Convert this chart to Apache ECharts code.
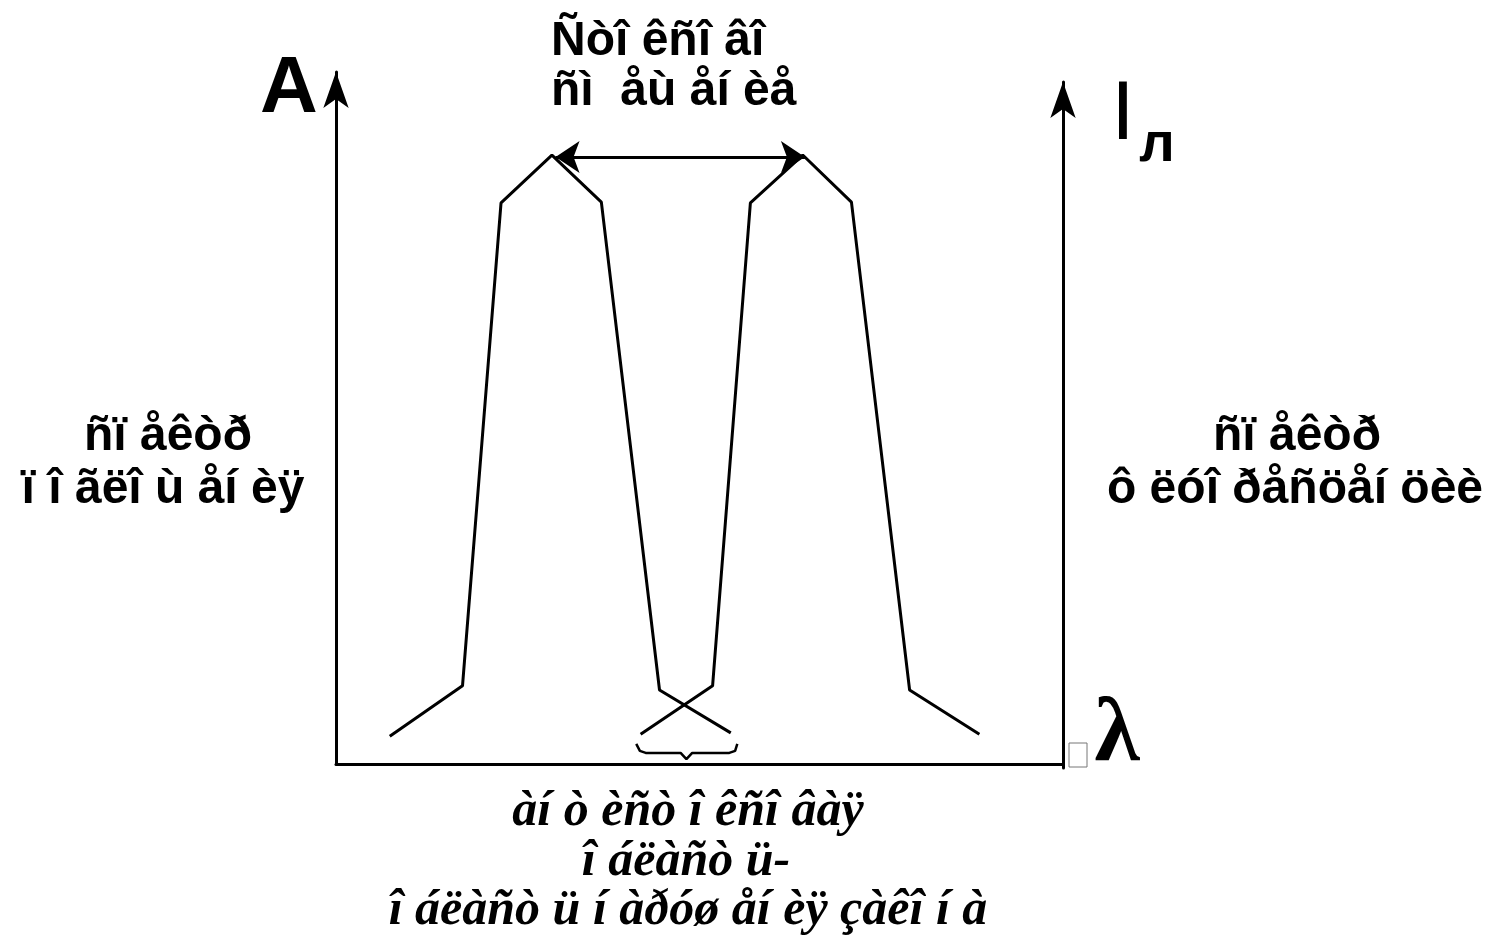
<!DOCTYPE html>
<html>
<head>
<meta charset="utf-8">
<script src="https://cdn.jsdelivr.net/npm/echarts@6/dist/echarts.min.js"></script>
<style>
  html, body { margin: 0; padding: 0; background: #fff; }
  #chart { width: 1499px; height: 937px; }
</style>
</head>
<body>
<div id="chart"></div>
<script>
// absorption band (left) and fluorescence band (right), relative units
const absWavelength = [7.4, 17.4, 22.7, 29.7, 36.5, 44.5, 54.3]
const absorption = [4.0, 11.3, 81.1, 88.0, 81.2, 10.7, 4.5]
const flWavelength = [41.9, 51.8, 57.0, 64.2, 70.9, 78.9, 88.5]
const fluorescence = [4.3, 11.3, 81.1, 88.0, 81.2, 10.7, 4.3]

// Stokes shift arrow between the two maxima
const shiftFrom = [30.2, 87.7]
const shiftTo = [64.5, 87.7]

// brace under the overlap region
const braceX = [41.3, 41.8, 42.6, 47.4, 48.2, 49.0, 54.1, 54.9, 55.2]
const braceY = [2.9, 1.9, 1.6, 1.6, 0.7, 1.6, 1.6, 1.9, 2.9]

const zip = (xs, ys) => xs.map((x, i) => [x, ys[i]])

const SANS = '"Liberation Sans", Arial, sans-serif'
const SERIF = '"Liberation Serif", "Times New Roman", serif'
const INK = '#000'

function label(text, x, y, opts = {}) {
  return {
    type: 'text',
    x,
    y,
    style: {
      text,
      fill: INK,
      font: opts.font || `bold 48px ${SANS}`,
      textAlign: opts.align || 'center',
      textVerticalAlign: 'middle',
    },
  }
}

const chart = echarts.init(document.getElementById('chart'))

chart.setOption({
  animation: false,
  grid: [
    { left: 336, top: 72, width: 727, height: 692 },
    { left: 1063, top: 82, width: 10, height: 686 },
  ],
  xAxis: [
    {
      type: 'value',
      gridIndex: 0,
      min: 0,
      max: 100,
      axisLine: { lineStyle: { color: INK, width: 3 } },
      axisTick: { show: false },
      axisLabel: { show: false },
      splitLine: { show: false },
    },
    { type: 'value', gridIndex: 1, show: false },
  ],
  yAxis: [
    {
      type: 'value',
      gridIndex: 0,
      min: 0,
      max: 100,
      axisLine: {
        show: true,
        symbol: ['none', 'arrow'],
        symbolSize: [19, 36],
        lineStyle: { color: INK, width: 3 },
      },
      axisTick: { show: false },
      axisLabel: { show: false },
      splitLine: { show: false },
    },
    {
      type: 'value',
      gridIndex: 1,
      position: 'left',
      min: 0,
      max: 100,
      axisLine: {
        show: true,
        symbol: ['none', 'arrow'],
        symbolSize: [19, 36],
        lineStyle: { color: INK, width: 3 },
      },
      axisTick: { show: false },
      axisLabel: { show: false },
      splitLine: { show: false },
    },
  ],
  series: [
    {
      name: 'absorption',
      type: 'line',
      data: zip(absWavelength, absorption),
      symbol: 'none',
      lineStyle: { color: INK, width: 3 },
      markLine: {
        silent: true,
        symbol: ['arrow', 'arrow'],
        symbolSize: 24,
        label: { show: false },
        lineStyle: { color: INK, width: 3, type: 'solid' },
        data: [[{ coord: shiftFrom }, { coord: shiftTo }]],
      },
    },
    {
      name: 'fluorescence',
      type: 'line',
      data: zip(flWavelength, fluorescence),
      symbol: 'none',
      lineStyle: { color: INK, width: 3 },
    },
    {
      name: 'brace',
      type: 'line',
      data: zip(braceX, braceY),
      symbol: 'none',
      lineStyle: { color: INK, width: 2.5 },
    },
  ],
  graphic: [
    label('A', 289, 90, { font: `bold 80px ${SANS}` }),
    label('Ñòî êñî âî', 551, 42, { align: 'left' }),
    label('ñì  åù åí èå', 551, 92, { align: 'left' }),
    label('ñï åêòð', 168, 437),
    label('ï î ãëî ù åí èÿ', 163, 490),
    label('ñï åêòð', 1297, 437),
    label('ô ëóî ðåñöåí öèè', 1295, 490),
    label('I', 1123, 116, { font: `84px ${SANS}` }),
    label('л', 1157, 146, { font: `bold 56px ${SANS}` }),
    label('λ', 1117, 736, { font: `bold 92px ${SERIF}` }),
    {
      type: 'rect',
      shape: { x: 1069, y: 743, width: 18, height: 24 },
      style: { fill: 'none', stroke: '#777', lineWidth: 1 },
    },
    label('àí ò èñò î êñî âàÿ', 688, 812, { font: `italic bold 50px ${SERIF}` }),
    label('î áëàñò ü-', 686, 862, { font: `italic bold 50px ${SERIF}` }),
    label('î áëàñò ü í àðóø åí èÿ çàêî í à', 688, 911, { font: `italic bold 50px ${SERIF}` }),
  ],
})
</script>
</body>
</html>
